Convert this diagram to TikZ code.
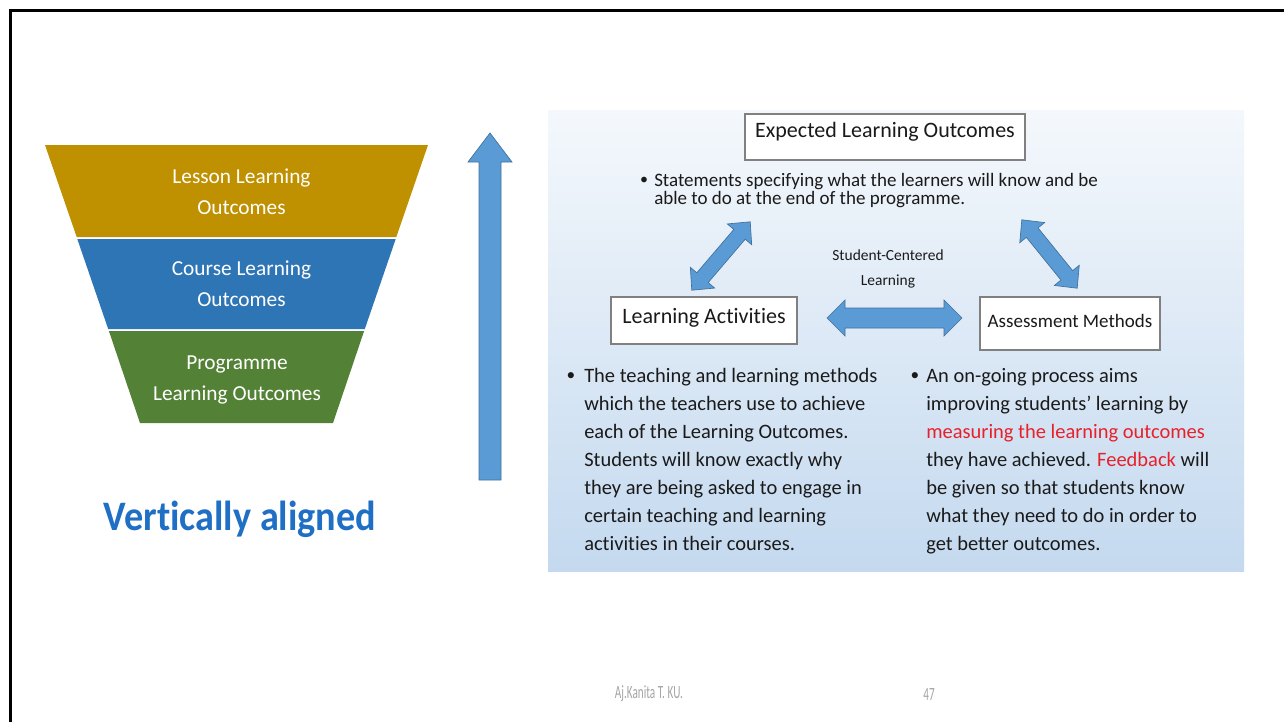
\documentclass[tikz,border=0pt]{standalone}
\usepackage{fontspec}
\setmainfont{Carlito}[Ligatures=NoCommon]
\definecolor{gold}{HTML}{BF9000}
\definecolor{fblue}{HTML}{2E75B6}
\definecolor{fgreen}{HTML}{538135}
\definecolor{arrblue}{HTML}{5B9BD5}
\definecolor{arrline}{HTML}{41719C}
\definecolor{vablue}{HTML}{1F6FC5}
\definecolor{boxgray}{HTML}{808080}
\definecolor{paneltop}{HTML}{F4F8FC}
\definecolor{panelmid}{HTML}{EEF4FA}
\definecolor{panelbot}{HTML}{C4D9EF}
\definecolor{txt}{HTML}{1A1A1A}
\definecolor{hl}{HTML}{E8202A}
\definecolor{foot}{HTML}{A6A6A6}
\begin{document}
\begin{tikzpicture}[x=0.75pt,y=-0.75pt,
  funtext/.style={text=white,align=center,font=\fontsize{16}{23.25}\selectfont,inner sep=0pt},
  box/.style={draw=boxgray,fill=white,line width=0.8pt,text=txt,inner sep=0pt},
  blockarr/.style={fill=arrblue,draw=arrline,line width=0.5pt,line join=miter},
  body/.style={text=txt,align=left,font=\fontsize{15.35}{21}\selectfont,inner sep=0pt,anchor=north west},
  bul/.style={text=txt,inner sep=0pt,font=\fontsize{15.35}{21}\selectfont}]
\useasboundingbox (0,0) rectangle (1284,722);
\fill[white] (0,0) rectangle (1284,722);
\draw[line width=2.25pt] (10.5,722) -- (10.5,10) -- (1285,10);
% funnel
\fill[gold] (45,145) -- (428,145) -- (396.3,237) -- (76.7,237) -- cycle;
\fill[fblue] (77.3,239) -- (395.7,239) -- (364.8,329) -- (108.2,329) -- cycle;
\fill[fgreen] (108.9,331) -- (364.1,331) -- (333,423) -- (140,423) -- cycle;
\node[funtext] (lesson) at (241.5,191.5) {Lesson Learning\\Outcomes};
\node[funtext] (course) at (241.5,283.5) {Course Learning\\Outcomes};
\node[funtext] (prog) at (237,379.5) {Programme\\Learning Outcomes};
\node[text=vablue,font=\fontsize{31.5}{36}\selectfont\bfseries,inner sep=0pt] (va) at (240,519) {\scalebox{0.91}[1]{Vertically aligned}};
% vertical arrow
\draw[blockarr] (479,480) -- (479,162) -- (468,162) -- (490,133) -- (512,162) -- (501,162) -- (501,480) -- cycle;
% panel
\shade[top color=paneltop,middle color=panelmid,bottom color=panelbot] (548,110) rectangle (1244,571);
\node[box,minimum width=210pt,minimum height=34.5pt,font=\fontsize{16.5}{19}\selectfont] (elo) at (885,137) {\raisebox{3.75pt}[\height][\depth]{Expected Learning Outcomes}};
\node[bul,font=\fontsize{12}{13.5}\selectfont] (b0) at (644,181) {•};
\node[text=txt,align=left,inner sep=0pt,anchor=west,font=\fontsize{14.25}{13.5}\selectfont] (stm) at (654,191) {Statements specifying what the learners will know and be\\able to do at the end of the programme.};
\node[text=txt,align=center,inner sep=0pt,font=\fontsize{11.6}{18.75}\selectfont] (scl) at (888,269) {Student-Centered\\Learning};
\node[box,minimum width=139.5pt,minimum height=35.25pt,font=\fontsize{16.5}{19}\selectfont] (la) at (704,320.5) {\raisebox{2.25pt}[\height][\depth]{Learning Activities}};
\node[box,minimum width=135pt,minimum height=39.75pt,font=\fontsize{14.25}{17}\selectfont] (am) at (1070,323.5) {\raisebox{2.25pt}[\height][\depth]{Assessment Methods}};
% double arrows
\begin{scope}[shift={(721,256)},rotate=49.5]
\draw[blockarr] (-45,0) -- (-28.5,-16) -- (-28.5,-7.5) -- (28.5,-7.5) -- (28.5,-16) -- (45,0) -- (28.5,16) -- (28.5,7.5) -- (-28.5,7.5) -- (-28.5,16) -- cycle;
\end{scope}
\begin{scope}[shift={(1049.5,254)},rotate=-51]
\draw[blockarr] (-44,0) -- (-27.5,-16) -- (-27.5,-7.5) -- (27.5,-7.5) -- (27.5,-16) -- (44,0) -- (27.5,16) -- (27.5,7.5) -- (-27.5,7.5) -- (-27.5,16) -- cycle;
\end{scope}
\begin{scope}[shift={(894.5,318)}]
\draw[blockarr] (-67.5,0) -- (-49.5,-18) -- (-49.5,-10) -- (49.5,-10) -- (49.5,-18) -- (67.5,0) -- (49.5,18) -- (49.5,10) -- (-49.5,10) -- (-49.5,18) -- cycle;
\end{scope}
% bottom texts
\node[bul,font=\fontsize{13}{21}\selectfont] (b1) at (571,377) {•};
\node[body] (latext) at (584,368) {The teaching and learning methods\\which the teachers use to achieve\\each of the Learning Outcomes.\\Students will know exactly why\\they are being asked to engage in\\certain teaching and learning\\activities in their courses.};
\node[bul,font=\fontsize{13}{21}\selectfont] (b2) at (915,377) {•};
\node[body] (amtext) at (926,368) {An on-going process aims\\improving students’ learning by\\\textcolor{hl}{measuring the learning outcomes}\\they have achieved. \textcolor{hl}{Feedback} will\\be given so that students know\\what they need to do in order to\\get better outcomes.};
% footer
\node[text=foot,inner sep=0pt,font=\fontsize{14}{16}\selectfont] (auth) at (649,694) {\scalebox{0.6}[1]{Aj.Kanita T. KU.}};
\node[text=foot,inner sep=0pt,font=\fontsize{14}{16}\selectfont] (page) at (929,694) {\scalebox{0.6}[1]{47}};
\end{tikzpicture}
\end{document}
